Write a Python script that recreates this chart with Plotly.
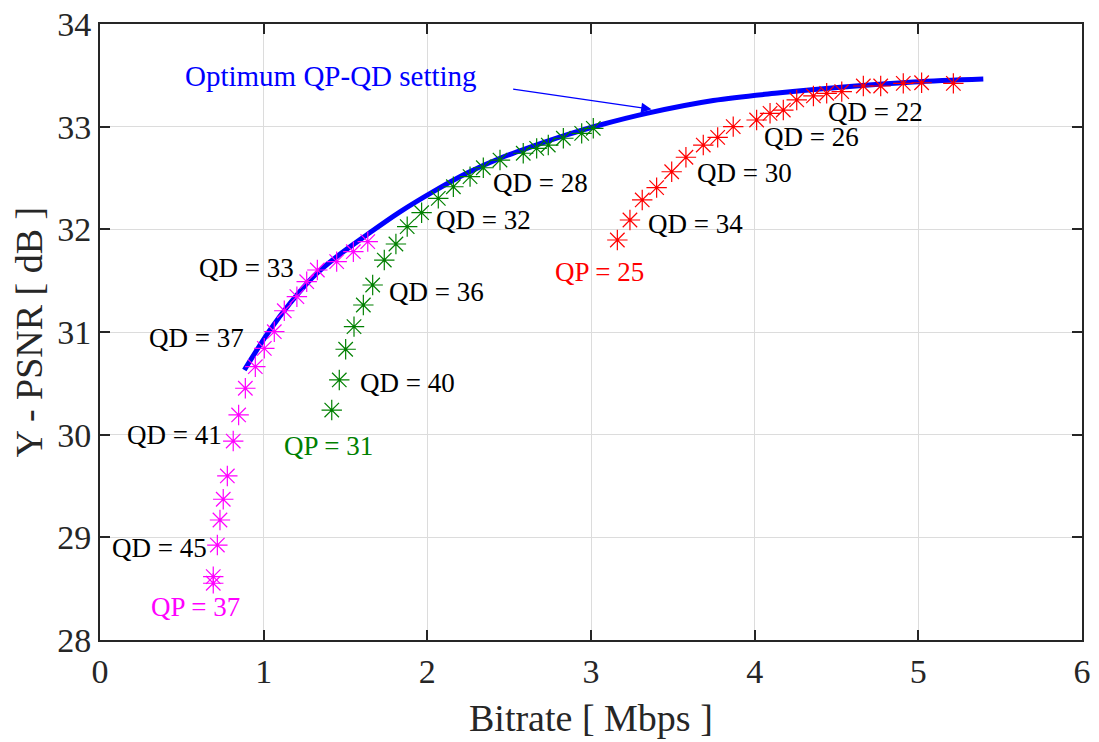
import plotly.graph_objects as go

# ---- data ----
qp37_rate = [0.692, 0.692, 0.717, 0.733, 0.753, 0.778, 0.814, 0.847, 0.888, 0.949,
             1.004, 1.065, 1.126, 1.203, 1.263, 1.328, 1.446, 1.548, 1.636]
qp37_psnr = [28.553, 28.617, 28.925, 29.169, 29.371, 29.598, 29.938, 30.192, 30.452, 30.662,
             30.841, 31.003, 31.207, 31.344, 31.490, 31.604, 31.685, 31.782, 31.880]

qp31_rate = [1.416, 1.462, 1.501, 1.552, 1.609, 1.666, 1.737, 1.808, 1.877, 1.965, 2.067,
             2.159, 2.261, 2.342, 2.444, 2.586, 2.668, 2.739, 2.831, 2.943, 3.014]
qp31_psnr = [30.240, 30.533, 30.832, 31.052, 31.263, 31.458, 31.701, 31.857, 32.026, 32.162, 32.302,
             32.415, 32.513, 32.600, 32.675, 32.741, 32.789, 32.821, 32.887, 32.935, 32.984]

qp25_rate = [3.161, 3.238, 3.313, 3.401, 3.493, 3.580, 3.686, 3.774, 3.869, 4.012, 4.094,
             4.175, 4.257, 4.359, 4.440, 4.532, 4.664, 4.770, 4.908, 5.020, 5.214]
qp25_psnr = [31.896, 32.091, 32.286, 32.406, 32.561, 32.702, 32.821, 32.896, 33.000, 33.065, 33.130,
             33.162, 33.260, 33.299, 33.325, 33.341, 33.396, 33.396, 33.422, 33.428, 33.422]

opt_rate = [0.882, 1.039, 1.161, 1.303, 1.446, 1.629, 1.833, 2.036, 2.240, 2.444,
            2.647, 2.851, 3.055, 3.340, 3.747, 4.155, 4.562, 4.969, 5.397]
opt_psnr = [30.630, 31.020, 31.280, 31.539, 31.733, 31.945, 32.170, 32.367, 32.546, 32.692,
            32.810, 32.919, 33.016, 33.130, 33.255, 33.330, 33.389, 33.435, 33.464]

x_ticks = [0, 1, 2, 3, 4, 5, 6]
y_ticks = [28, 29, 30, 31, 32, 33, 34]

# text labels: (text, x, y, colour)
labels = [
    ("QD = 33", 0.595, 31.628, "black"),
    ("QD = 37", 0.285, 30.942, "black"),
    ("QD = 41", 0.153, 29.997, "black"),
    ("QD = 45", 0.061, 28.896, "black"),
    ("QP = 37", 0.299, 28.325, "#FF00FF"),
    ("QD = 36", 1.752, 31.393, "black"),
    ("QD = 40", 1.578, 30.500, "black"),
    ("QP = 31", 1.110, 29.890, "#008000"),
    ("QD = 32", 2.041, 32.091, "black"),
    ("QD = 28", 2.389, 32.454, "black"),
    ("QP = 25", 2.768, 31.587, "#FF0000"),
    ("QD = 34", 3.334, 32.052, "black"),
    ("QD = 30", 3.635, 32.546, "black"),
    ("QD = 26", 4.043, 32.897, "black"),
    ("QD = 22", 4.434, 33.140, "black"),
]

FONT = "Liberation Serif, Times New Roman, serif"
AX = "#262626"

fig = go.Figure()
fig.add_trace(go.Scatter(x=opt_rate, y=opt_psnr, mode="lines",
                         line=dict(color="#0000FF", width=5, shape="spline", smoothing=1.0),
                         showlegend=False))
for xs, ys, col in [(qp37_rate, qp37_psnr, "#FF00FF"),
                    (qp31_rate, qp31_psnr, "#008000"),
                    (qp25_rate, qp25_psnr, "#FF0000")]:
    fig.add_trace(go.Scatter(x=xs, y=ys, mode="markers",
                             marker=dict(symbol="asterisk-open", size=17, color=col,
                                         line=dict(color=col, width=1.2)),
                             showlegend=False))

annotations = []
for t, x, y, c in labels:
    annotations.append(dict(x=x, y=y, xref="x", yref="y", text=t, showarrow=False,
                            xanchor="left", yanchor="middle",
                            font=dict(family=FONT, size=27, color=c)))

annotations.append(dict(x=0.505, y=33.494, xref="x", yref="y", text="Optimum QP-QD setting",
                        showarrow=False, xanchor="left", yanchor="middle",
                        font=dict(family=FONT, size=29, color="#0000FF")))
annotations.append(dict(x=3.370, y=33.169, ax=2.515, ay=33.367, xref="x", yref="y",
                        axref="x", ayref="y", text="", showarrow=True,
                        arrowhead=2, arrowsize=1.6, arrowwidth=1.3, arrowcolor="#0000FF"))

# axis titles
annotations.append(dict(x=0.5, y=-0.127, xref="paper", yref="paper", text="Bitrate [ Mbps ]",
                        showarrow=False, xanchor="center", yanchor="middle",
                        font=dict(family=FONT, size=38, color=AX)))
annotations.append(dict(x=-0.0723, y=0.499, xref="paper", yref="paper", text="Y - PSNR [ dB ]",
                        showarrow=False, xanchor="center", yanchor="middle", textangle=-90,
                        font=dict(family=FONT, size=38, color=AX)))

fig.update_layout(
    width=1099, height=742,
    margin=dict(l=100, r=17, t=24, b=102, autoexpand=False),
    paper_bgcolor="white", plot_bgcolor="white",
    annotations=annotations,
    font=dict(family=FONT, color=AX),
)
fig.update_xaxes(range=[0, 6], tickvals=x_ticks, ticktext=[str(v) for v in x_ticks],
                 showgrid=True, gridcolor="#DCDCDC", gridwidth=1, automargin=False,
                 showline=True, linecolor=AX, linewidth=2, mirror="ticks",
                 ticks="inside", ticklen=10, tickwidth=1.5, tickcolor=AX,
                 tickfont=dict(family=FONT, size=34, color=AX), zeroline=False)
fig.update_yaxes(range=[28, 34], tickvals=y_ticks, ticktext=[str(v) for v in y_ticks],
                 showgrid=True, gridcolor="#DCDCDC", gridwidth=1, automargin=False,
                 showline=True, linecolor=AX, linewidth=2, mirror="ticks",
                 ticks="inside", ticklen=10, tickwidth=1.5, tickcolor=AX,
                 tickfont=dict(family=FONT, size=34, color=AX), zeroline=False)

fig.write_html("out.html")
